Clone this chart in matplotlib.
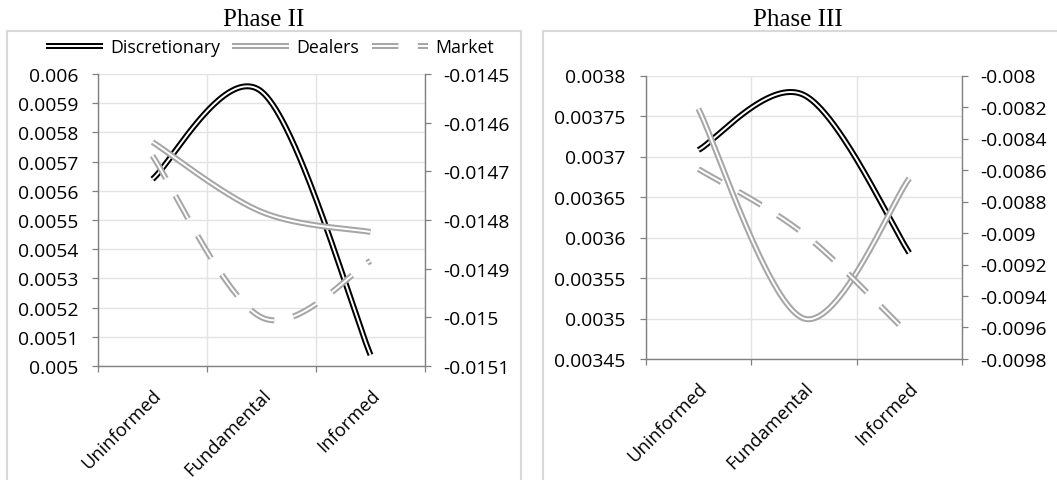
import numpy as np
import matplotlib
matplotlib.use("Agg")
import matplotlib.pyplot as plt
from matplotlib.patches import Rectangle
from matplotlib.transforms import ScaledTranslation

# ---- data -------------------------------------------------------------
categories = ["Uninformed", "Fundamental", "Informed"]
series_names = ["Discretionary", "Dealers", "Market"]

# Phase II (Discretionary and Dealers on the left axis, Market on the right axis)
p2_discretionary = [0.00564, 0.00594, 0.005038]
p2_dealers = [0.005767, 0.005528, 0.005459]
p2_market = [-0.014668, -0.01500, -0.014884]

# Phase III
p3_discretionary = [0.003708, 0.003776, 0.003581]
p3_dealers = [0.003759, 0.003500, 0.003673]
p3_market = [-0.008594, -0.009006, -0.009648]

p2_left_ticks = [0.005, 0.0051, 0.0052, 0.0053, 0.0054, 0.0055, 0.0056,
                 0.0057, 0.0058, 0.0059, 0.006]
p2_left_labels = ["0.005", "0.0051", "0.0052", "0.0053", "0.0054", "0.0055",
                  "0.0056", "0.0057", "0.0058", "0.0059", "0.006"]
p2_right_ticks = [-0.0151, -0.015, -0.0149, -0.0148, -0.0147, -0.0146, -0.0145]
p2_right_labels = ["-0.0151", "-0.015", "-0.0149", "-0.0148", "-0.0147",
                   "-0.0146", "-0.0145"]

p3_left_ticks = [0.00345, 0.0035, 0.00355, 0.0036, 0.00365, 0.0037,
                 0.00375, 0.0038]
p3_left_labels = ["0.00345", "0.0035", "0.00355", "0.0036", "0.00365",
                  "0.0037", "0.00375", "0.0038"]
p3_right_ticks = [-0.0098, -0.0096, -0.0094, -0.0092, -0.009, -0.0088,
                  -0.0086, -0.0084, -0.0082, -0.008]
p3_right_labels = ["-0.0098", "-0.0096", "-0.0094", "-0.0092", "-0.009",
                   "-0.0088", "-0.0086", "-0.0084", "-0.0082", "-0.008"]

# ---- style ------------------------------------------------------------
plt.rcParams["font.family"] = ["Open Sans", "DejaVu Sans"]
plt.rcParams["lines.scale_dashes"] = False
FS_LEGEND = 12.8
FS_TICK = 13.9
FS_CAT = 13.2
BLACK = "#000000"
GREY = "#a6a6a6"
SPINE = "#808080"
GRID = "#e3e3e3"
OUTER_LW = 4.3
INNER_LW = 1.4
DASH = (19, 14)

W, H = 1057, 481
fig = plt.figure(figsize=(W / 100, H / 100), dpi=100)


def px_rect(x0, y0, x1, y1):
    """Figure-fraction rectangle from pixel edges (y measured from top)."""
    return [x0 / W, 1 - y1 / H, (x1 - x0) / W, (y1 - y0) / H]


def excel_smooth(xs, ys, n=80):
    """Cubic Bezier smoothing through the points (tension 1/6)."""
    pts = np.column_stack([xs, ys]).astype(float)
    ext = np.vstack([pts[0], pts, pts[-1]])
    t = np.linspace(0, 1, n)[:, None]
    parts = []
    for i in range(len(pts) - 1):
        p0, p3 = ext[i + 1], ext[i + 2]
        c1 = p0 + (ext[i + 2] - ext[i]) / 6
        c2 = p3 - (ext[i + 3] - ext[i + 1]) / 6
        seg = ((1 - t) ** 3) * p0 + 3 * ((1 - t) ** 2) * t * c1 \
            + 3 * (1 - t) * t ** 2 * c2 + t ** 3 * p3
        parts.append(seg if i == 0 else seg[1:])
    curve = np.vstack(parts)
    return curve[:, 0], curve[:, 1]


def double_line(ax, values, color, dashed=False):
    x, y = excel_smooth(np.arange(len(values)), values)
    ls = (0, DASH) if dashed else "-"
    outer, = ax.plot(x, y, color=color, lw=OUTER_LW, ls=ls,
                     solid_capstyle="butt", dash_capstyle="butt")
    inner, = ax.plot(x, y, color="white", lw=INNER_LW, ls=ls,
                     solid_capstyle="butt", dash_capstyle="butt")
    return (outer, inner)


def style_axes(ax, ax2, lticks, llabels, rticks, rlabels):
    n = len(categories)
    ax.set_xlim(-0.5, n - 0.5)
    ax.set_xticks(np.arange(n + 1) - 0.5)
    ax.set_xticklabels([])
    ax.set_xticks(np.arange(n), minor=True)
    ax.set_xticklabels(categories, minor=True, rotation=45, ha="right",
                       va="top", rotation_mode="anchor", fontsize=FS_CAT)
    shift = ScaledTranslation(3.0 / 100, 0, fig.dpi_scale_trans)
    for lab in ax.get_xticklabels(minor=True):
        lab.set_transform(lab.get_transform() + shift)
    ax.tick_params(axis="x", which="minor", length=0, pad=14)
    ax.tick_params(axis="x", which="major", length=4.3, width=0.9,
                   color=SPINE, direction="out")

    ax.set_ylim(lticks[0], lticks[-1])
    ax.set_yticks(lticks)
    ax.set_yticklabels(llabels, fontsize=FS_TICK)
    ax.tick_params(axis="y", length=4.3, width=0.9, color=SPINE,
                   direction="out", pad=10)

    ax2.set_ylim(rticks[0], rticks[-1])
    ax2.set_yticks(rticks)
    ax2.set_yticklabels(rlabels, fontsize=FS_TICK)
    ax2.tick_params(axis="y", length=4.3, width=0.9, color=SPINE,
                    direction="out", pad=8.5)

    ax.grid(True, which="major", color=GRID, lw=1.0)
    ax.set_axisbelow(True)
    for s in ("top", "right"):
        ax.spines[s].set_visible(False)
    for s in ("left", "bottom"):
        ax.spines[s].set_color(SPINE)
        ax.spines[s].set_linewidth(1.0)
    for s in ("top", "left", "bottom"):
        ax2.spines[s].set_visible(False)
    ax2.spines["right"].set_color(SPINE)
    ax2.spines["right"].set_linewidth(1.0)


# ---- panel frames ---------------------------------------------------------
for x0, x1 in ((7, 521), (543, 1065)):
    fig.patches.append(Rectangle((x0 / W, -0.05), (x1 - x0) / W,
                                 1 - 32 / H + 0.05, transform=fig.transFigure,
                                 fill=False, edgecolor="#d9d9d9", lw=1.5))

# ---- Phase II -------------------------------------------------------------
ax_a = fig.add_axes(px_rect(98, 75, 425, 367))
ax_a2 = ax_a.twinx()
h_disc = double_line(ax_a, p2_discretionary, BLACK)
h_deal = double_line(ax_a, p2_dealers, GREY)
h_mkt = double_line(ax_a2, p2_market, GREY, dashed=True)
style_axes(ax_a, ax_a2, p2_left_ticks, p2_left_labels,
           p2_right_ticks, p2_right_labels)

# ---- Phase III ------------------------------------------------------------
ax_b = fig.add_axes(px_rect(645.7, 76.5, 962, 360))
ax_b2 = ax_b.twinx()
double_line(ax_b, p3_discretionary, BLACK)
double_line(ax_b, p3_dealers, GREY)
double_line(ax_b2, p3_market, GREY, dashed=True)
style_axes(ax_b, ax_b2, p3_left_ticks, p3_left_labels,
           p3_right_ticks, p3_right_labels)

# ---- titles & legend ------------------------------------------------------
fig.text(264 / W, 1 - 26 / H, "Phase II", ha="center", va="baseline",
         fontsize=18, family="Liberation Serif")
fig.text(798 / W, 1 - 26 / H, "Phase III", ha="center", va="baseline",
         fontsize=18, family="Liberation Serif")

fig.legend(handles=[h_disc, h_deal, h_mkt], labels=series_names,
           loc="center", bbox_to_anchor=(270 / W, 1 - 48 / H), ncol=3,
           frameon=False, fontsize=FS_LEGEND, handlelength=3.2,
           handletextpad=0.4, columnspacing=0.7, borderaxespad=0,
           borderpad=0)

fig.savefig("out.png", dpi=100, facecolor="white")
